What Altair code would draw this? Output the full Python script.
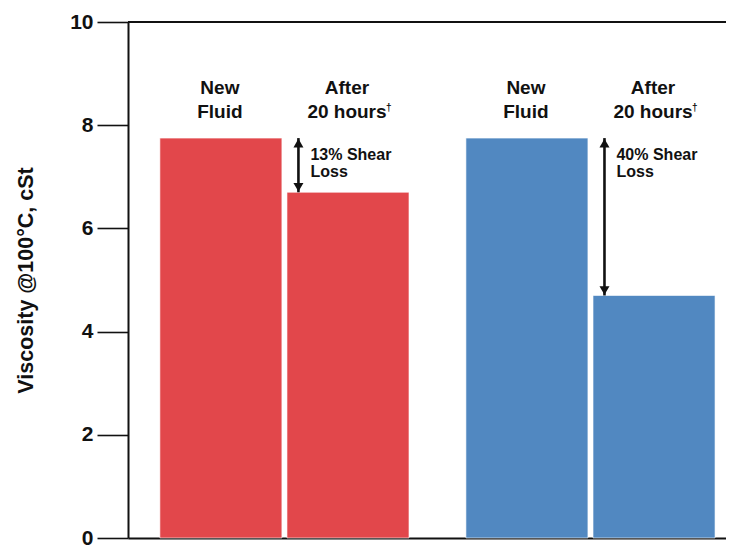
import altair as alt
import pandas as pd

# ---- data ----
groups = ["Fluid A", "Fluid A", "Fluid B", "Fluid B"]
conditions = ["New Fluid", "After 20 hours", "New Fluid", "After 20 hours"]
viscosity = [7.75, 6.70, 7.75, 4.70]
bar_colors = ["#E2474B", "#E2474B", "#5188C1", "#5188C1"]
bar_labels = ["New\nFluid", "After\n20 hours", "New\nFluid", "After\n20 hours"]

loss_groups = ["Fluid A", "Fluid B"]
loss_labels = ["13% Shear\nLoss", "40% Shear\nLoss"]
new_values = [7.75, 7.75]
after_values = [6.70, 4.70]

y_ticks = [0, 2, 4, 6, 8, 10]
y_title = "Viscosity @100°C, cSt"

# ---- layout / style ----
W, H = 598, 516
FONT = "Liberation Sans"
INK = "#111111"

df = pd.DataFrame({"group": groups, "cond": conditions, "value": viscosity,
                   "color": bar_colors, "label": bar_labels})
after_df = df[df["cond"] == "After 20 hours"].assign(dag="†")
ldf = pd.DataFrame({"group": loss_groups, "label": loss_labels,
                    "start": new_values, "end": after_values})

x_scale = alt.Scale(domain=["Fluid A", "Fluid B"], paddingInner=0.186,
                    paddingOuter=0.07, align=0.744)
xo_scale = alt.Scale(domain=["New Fluid", "After 20 hours"], paddingInner=0.04,
                     paddingOuter=0)
y_scale = alt.Scale(domain=[0, 10], nice=False, zero=True)

x_enc = alt.X("group:N", scale=x_scale,
              axis=alt.Axis(title=None, labels=False, ticks=False, domain=True,
                            domainColor=INK, domainWidth=2))
xo_enc = alt.XOffset("cond:N", scale=xo_scale)

y_axis = alt.Axis(values=y_ticks, title=y_title, grid=False,
                  domainColor=INK, domainWidth=2,
                  tickColor=INK, tickWidth=1.6, tickSize=31,
                  labelFont=FONT, labelFontSize=21, labelFontWeight="bold",
                  labelColor=INK, labelPadding=4,
                  titleFont=FONT, titleFontSize=21.5, titleFontWeight="bold",
                  titleColor=INK, titleAngle=270, titleAlign="center",
                  titleBaseline="middle", titleX=-102, titleY=258)


def yq(field):
    return alt.Y(field, type="quantitative", scale=y_scale, axis=y_axis, title=y_title)


def yd(val):
    return alt.Y(datum=val, type="quantitative", scale=y_scale, axis=y_axis, title=y_title)


bars = alt.Chart(df).mark_bar(stroke="white", strokeWidth=0.6).encode(
    x=x_enc, xOffset=xo_enc, y=yq("value"),
    color=alt.Color("color:N", scale=None),
)

labels = alt.Chart(df).mark_text(
    font=FONT, fontSize=19, fontWeight="bold", color=INK, align="center",
    baseline="top", lineBreak="\n", lineHeight=24, dx=-1,
).encode(x=x_enc, xOffset=xo_enc, y=yd(8.90), text="label:N")

dagger = alt.Chart(after_df).mark_text(
    font=FONT, fontSize=10, fontWeight="bold", color=INK, align="left",
    baseline="top", dx=38,
).encode(x=x_enc, xOffset=xo_enc, y=yd(8.43), text="dag:N")

shaft = alt.Chart(ldf).mark_rule(color=INK, strokeWidth=2.6, xOffset=14).encode(
    x=x_enc, y=yq("start"), y2="end:Q")

head_up = alt.Chart(ldf).mark_point(
    shape="triangle-up", filled=True, size=100, color=INK, opacity=1,
    xOffset=14, yOffset=5,
).encode(x=x_enc, y=yq("start"))

head_down = alt.Chart(ldf).mark_point(
    shape="triangle-down", filled=True, size=100, color=INK, opacity=1,
    xOffset=14, yOffset=-5,
).encode(x=x_enc, y=yq("end"))

loss_text = alt.Chart(ldf).mark_text(
    font=FONT, fontSize=16, fontWeight="bold", color=INK, align="left",
    baseline="top", lineBreak="\n", lineHeight=17, dx=26,
).encode(x=x_enc, y=yd(7.58), text="label:N")

top_line = alt.Chart(ldf).mark_rule(color=INK, strokeWidth=2).encode(
    y=yd(10), x=alt.value(0), x2=alt.value(W))

chart = alt.layer(bars, labels, dagger, shaft, head_up, head_down, loss_text,
                  top_line).properties(
    width=W, height=H,
    autosize=alt.AutoSizeParams(type="none"),
    padding={"left": 120, "top": 14, "right": 0, "bottom": 9},
).configure_view(stroke=None)

chart.save("out.html", embed_options={"renderer": "svg", "actions": False})
